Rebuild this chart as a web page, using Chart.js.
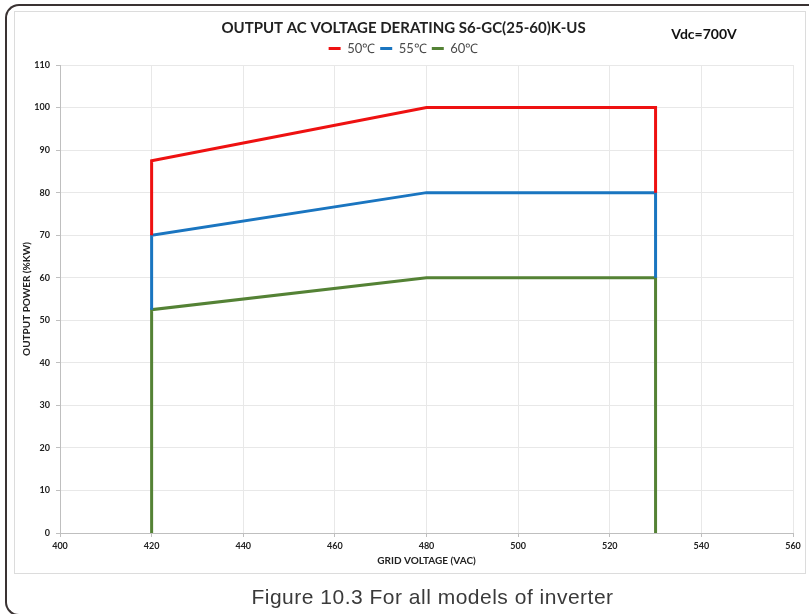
<!DOCTYPE html>
<html>
<head>
<meta charset="utf-8">
<script src="https://cdn.jsdelivr.net/npm/chart.js@4"></script>
<style>
  html,body{margin:0;padding:0;background:#fff;}
  #wrap{position:relative;width:809px;height:614px;overflow:hidden;}
  #outer{position:absolute;left:5px;top:4px;width:900px;height:608px;border-left:2px solid #3a3232;border-top:2px solid #3a3232;border-bottom:2px solid #3a3232;border-radius:14px 0 0 14px;}
  #inner{position:absolute;left:14px;top:11px;width:790px;height:561px;border:1px solid #dcdcdc;}
  #cap{position:absolute;left:0;width:809px;top:585px;text-align:center;font-family:"Liberation Sans",Arial,sans-serif;font-size:21px;color:#3a3a3a;letter-spacing:0.5px;padding-left:56px;box-sizing:border-box;}
  canvas{position:absolute;left:0;top:0;}
</style>
</head>
<body>
<div id="wrap">
  <div id="outer"></div>
  <div id="inner"></div>
  <canvas id="c" width="809" height="614"></canvas>
  <div id="cap">Figure 10.3 For all models of inverter</div>
</div>
<script>
const seriesNames = ["50℃", "55℃", "60℃"];
const gridVoltage = [420, 420, 480, 530, 530];
const power50 = [70, 87.5, 100, 100, 80];
const power55 = [52.5, 70, 80, 80, 60];
const power60 = [0, 52.5, 60, 60, 0];
const xTickMin = 400, xTickMax = 560, xTickStep = 20;
const yTickMin = 0, yTickMax = 110, yTickStep = 10;
const chartTitle = "OUTPUT AC VOLTAGE DERATING S6-GC(25-60)K-US";
const noteText = "Vdc=700V";
const xTitle = "GRID VOLTAGE (VAC)";
const yTitle = "OUTPUT POWER (%KW)";

const colors = ["#ee1111", "#1a75c0", "#548235"];
const FONT = "Lato, 'Open Sans', sans-serif";

function pts(ys){ return gridVoltage.map((x,i)=>({x:x,y:ys[i]})); }

const notePlugin = {
  id:'note',
  afterDraw(chart){
    const ctx = chart.ctx;
    ctx.save();
    ctx.font = "bold 14px " + FONT;
    ctx.fillStyle = "#111";
    ctx.textAlign = "center";
    ctx.textBaseline = "middle";
    ctx.fillText(noteText, 704, 34);
    ctx.restore();
  }
};

new Chart(document.getElementById('c'), {
  type: 'scatter',
  data: {
    datasets: [power50, power55, power60].map((d,i)=>({
      label: seriesNames[i],
      data: pts(d),
      showLine: true,
      borderColor: colors[i],
      backgroundColor: colors[i],
      borderWidth: 3,
      pointRadius: 0,
      pointHoverRadius: 0,
      tension: 0,
      fill: false
    }))
  },
  options: {
    responsive: false,
    devicePixelRatio: 1,
    animation: false,
    layout: { padding: { left: 14, right: 16, top: 0, bottom: 47 } },
    plugins: {
      title: {
        display: true,
        text: chartTitle,
        color: "#222",
        font: { family: FONT, size: 15, weight: 'bold' },
        padding: { top: 19, bottom: 0 }
      },
      legend: {
        display: true,
        labels: {
          usePointStyle: true,
          pointStyle: 'line',
          pointStyleWidth: 12,
          boxHeight: 8,
          color: "#4a4a4a",
          font: { family: FONT, size: 13 },
          padding: 5
        }
      },
      tooltip: { enabled: false }
    },
    scales: {
      x: {
        type: 'linear',
        min: xTickMin, max: xTickMax,
        afterFit(s){ s.height = 34; },
        ticks: { stepSize: xTickStep, color: "#222", font: { family: FONT, size: 9, weight: 'bold' }, padding: 4 },
        grid: { color: "#e8e8e8", tickColor: "#bfbfbf", tickLength: 4 },
        border: { color: "#bfbfbf" },
        title: { display: true, text: xTitle, color: "#222", font: { family: FONT, size: 10, weight: 'bold' }, padding: { top: 0, bottom: 0 } }
      },
      y: {
        min: yTickMin, max: yTickMax,
        afterFit(s){ s.width = 46; },
        ticks: { stepSize: yTickStep, color: "#222", font: { family: FONT, size: 9, weight: 'bold' }, padding: 6 },
        grid: { color: "#e8e8e8", tickColor: "#bfbfbf", tickLength: 4 },
        border: { color: "#bfbfbf" },
        title: { display: true, text: yTitle, color: "#222", font: { family: FONT, size: 10, weight: 'bold' }, padding: { top: 7, bottom: 0 } }
      }
    }
  },
  plugins: [notePlugin]
});
</script>
</body>
</html>
